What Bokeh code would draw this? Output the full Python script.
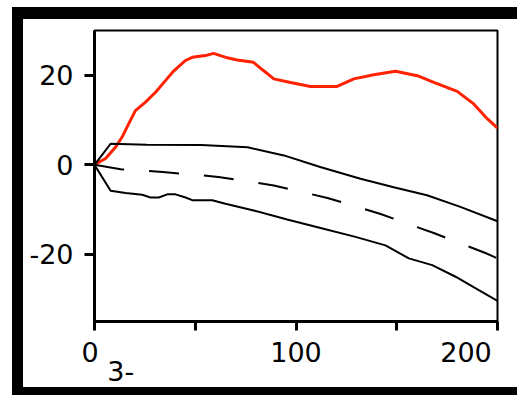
from bokeh.plotting import figure
from bokeh.models import Range1d, FixedTicker, LinearAxis
from bokeh.embed import file_html
from bokeh.resources import INLINE

# ---- data ----
red_x = [0, 5.5, 10.4, 13.7, 17.0, 20.3, 25.3, 30.3, 35.2, 39.4, 45.2, 48.5, 55.1, 59.1,
         65.9, 70.8, 78.9, 84.0, 89.0, 97.3, 107.2, 120.4, 128.7, 138.6, 149.4, 160.2,
         168.4, 180.0, 188.2, 194.9, 200]
red_y = [0, 1.4, 3.9, 6.2, 9.2, 12.1, 14.0, 16.2, 18.8, 21.0, 23.3, 24.0, 24.4, 24.9,
         23.9, 23.4, 22.9, 21.0, 19.2, 18.4, 17.5, 17.5, 19.2, 20.1, 20.9, 19.9,
         18.4, 16.4, 13.6, 10.3, 8.2]

upper_x = [0, 8, 26, 53, 76, 94, 112, 132, 148.5, 165, 181.6, 200]
upper_y = [0, 4.7, 4.5, 4.4, 3.9, 2.1, -0.5, -3.1, -5.0, -6.8, -9.4, -12.6]

mid_x = [0, 13, 34, 61.5, 89, 115.6, 142, 168.7, 194, 200]
mid_y = [0, -1.0, -1.6, -2.7, -4.6, -7.4, -11.0, -15.3, -19.7, -20.9]

lower_x = [0, 8, 15.4, 23.7, 27.8, 31.9, 36.1, 40.2, 45.2, 48.5, 58.4, 65, 79, 95.6,
           112.2, 129.5, 144.4, 156, 167.6, 179.2, 190.7, 200]
lower_y = [0, -5.8, -6.3, -6.7, -7.3, -7.3, -6.6, -6.6, -7.3, -7.9, -7.9, -8.7, -10.2,
           -12.2, -14.1, -16.1, -18.0, -20.9, -22.4, -25.0, -28.0, -30.4]

x_ticks = [0, 50, 100, 150, 200]
x_tick_labels = {0: "0\u00a0", 50: "", 100: "100", 150: "", 200: "200\u00a0\u00a0\u00a0"}
y_ticks = [-20, 0, 20]
y_tick_labels = {-20: "-20", 0: "0", 20: "20"}
note_text = "3-"

# ---- layout constants ----
W, H = 494, 368
FL, FT, FW, FH = 71, 11, 403, 291
X0, X1, Y0, Y1 = 0, 200, -35, 30
NOTE_POS = 13

p = figure(width=W, height=H, output_backend="svg", toolbar_location=None,
           x_range=Range1d(X0, X1), y_range=Range1d(Y0, Y1),
           min_border_left=FL, min_border_top=FT,
           min_border_right=W - FL - FW, min_border_bottom=H - FT - FH)
# thick black picture frame around the canvas (drawn outside, does not change layout)
p.styles = {"margin-left": "23px", "margin-top": "19px",
            "box-shadow": "-11px -12px 0 0 #000, 0 -12px 0 0 #000, "
                          "-11px 8px 0 0 #000, 0 8px 0 0 #000"}
p.grid.visible = False
p.background_fill_color = "white"
p.border_fill_color = "white"
p.outline_line_color = "black"
p.outline_line_width = 2

font = "DejaVu Sans"
for ax in (p.xaxis[0], p.yaxis[0]):
    ax.axis_line_width = 3
    ax.axis_line_color = "black"
    ax.major_tick_line_width = 3
    ax.major_tick_line_color = "black"
    ax.major_tick_in = 0
    ax.minor_tick_in = 0
    ax.minor_tick_out = 0
    ax.major_label_text_font = font
    ax.major_label_text_font_size = "27px"
    ax.major_label_text_color = "black"

p.xaxis.ticker = FixedTicker(ticks=x_ticks)
p.xaxis.major_label_overrides = x_tick_labels
p.xaxis.major_tick_out = 9
p.xaxis.major_label_standoff = 6

p.yaxis.ticker = FixedTicker(ticks=y_ticks)
p.yaxis.major_label_overrides = y_tick_labels
p.yaxis.major_tick_out = 10
p.yaxis.major_label_standoff = 11

note_axis = LinearAxis(ticker=FixedTicker(ticks=[NOTE_POS]),
                       major_label_overrides={NOTE_POS: note_text},
                       axis_line_color=None, major_tick_line_color=None,
                       minor_tick_line_color=None, major_tick_out=0, major_tick_in=0,
                       minor_tick_out=0, minor_tick_in=0, major_label_standoff=-10,
                       major_label_text_font=font, major_label_text_font_size="27px",
                       major_label_text_color="black")
p.add_layout(note_axis, "below")

p.line(red_x, red_y, line_color="#ff2200", line_width=3)
p.line(upper_x, upper_y, line_color="black", line_width=2)
p.line(mid_x, mid_y, line_color="black", line_width=2, line_dash="30 25")
p.line(lower_x, lower_y, line_color="black", line_width=2)

open("out.html", "w").write(file_html(p, INLINE))
